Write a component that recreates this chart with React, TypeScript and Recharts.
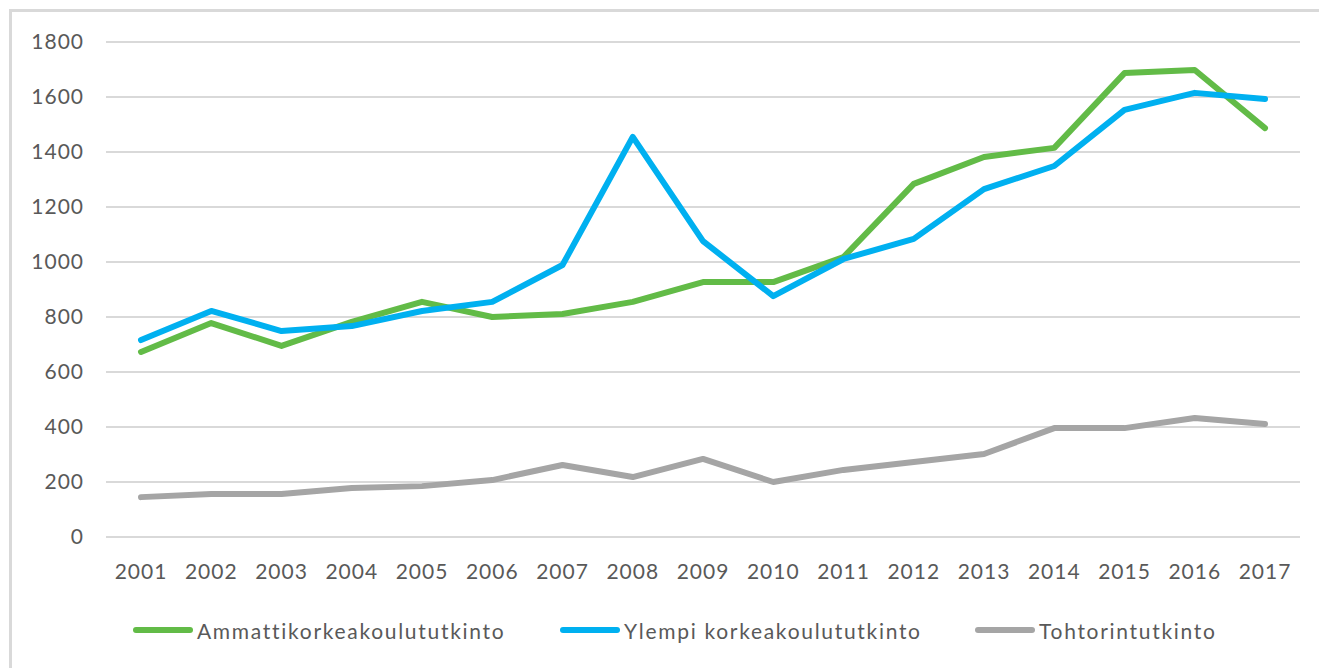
import { CartesianGrid, Line, LineChart, XAxis, YAxis } from "recharts";

const YEARS = ["2001", "2002", "2003", "2004", "2005", "2006", "2007", "2008", "2009", "2010", "2011", "2012", "2013", "2014", "2015", "2016", "2017"];
const AMK = [673, 778, 695, 782, 855, 800, 811, 855, 927, 927, 1018, 1284, 1382, 1415, 1687, 1698, 1487];
const YLEMPI = [716, 822, 749, 767, 822, 855, 989, 1455, 1076, 876, 1011, 1084, 1265, 1349, 1553, 1615, 1593];
const TOHTORI = [145, 156, 156, 178, 185, 207, 262, 218, 284, 200, 244, 273, 302, 396, 396, 433, 411];
const Y_TICKS = [0, 200, 400, 600, 800, 1000, 1200, 1400, 1600, 1800];

const SERIES = [
  { key: "amk", name: "Ammattikorkeakoulututkinto", color: "#62bb47" },
  { key: "ylempi", name: "Ylempi korkeakoulututkinto", color: "#00b0f0" },
  { key: "tohtori", name: "Tohtorintutkinto", color: "#a5a5a5" }
];

const data = YEARS.map((year, i) => ({
  year,
  amk: AMK[i],
  ylempi: YLEMPI[i],
  tohtori: TOHTORI[i]
}));

const FONT = "Lato, 'Open Sans', sans-serif";
const TEXT = "#595959";

// legend drawn as plain html so it doesn't shrink the plot area
function ChartLegend() {
  const lefts = [133, 560, 975];
  return (
    <div style={{ position: "absolute", left: 0, top: 610, width: 1319, height: 40 }}>
      {SERIES.map((s, i) => (
        <div key={s.key} style={{ position: "absolute", left: lefts[i], top: 0, display: "flex", alignItems: "center", height: 40 }}>
          <span style={{ width: 60, height: 6, borderRadius: 3, background: s.color, display: "inline-block" }} />
          <span style={{ marginLeft: 4, fontFamily: FONT, fontSize: 21, color: TEXT, letterSpacing: 1.7 }}>{s.name}</span>
        </div>
      ))}
    </div>
  );
}

export default function App() {
  const tickStyle = { fill: TEXT, fontSize: 21, fontFamily: FONT, letterSpacing: 1 };
  return (
    <div style={{ position: "fixed", left: 0, top: 0, width: 1319, height: 668, background: "#fff" }}>
      <div style={{ position: "absolute", left: 9, top: 9, right: 0, bottom: 0, borderLeft: "3px solid #d9d9d9", borderTop: "3px solid #d9d9d9" }} />
      <div style={{ position: "absolute", left: 0, top: 0 }}>
        <LineChart width={1319} height={668} data={data} margin={{ top: 42, right: 19, bottom: 101, left: 10 }}>
          <CartesianGrid vertical={false} stroke="#d9d9d9" strokeWidth={2} />
          <XAxis
            dataKey="year"
            height={30}
            axisLine={false}
            tickLine={false}
            tickSize={0}
            tickMargin={27}
            interval={0}
            padding={{ left: 35, right: 35 }}
            tick={tickStyle}
          />
          <YAxis
            domain={[0, 1800]}
            ticks={Y_TICKS}
            width={96}
            axisLine={false}
            tickLine={false}
            tickSize={0}
            tickMargin={22}
            tick={tickStyle}
          />
          {SERIES.map((s) => (
            <Line
              key={s.key}
              type="linear"
              dataKey={s.key}
              name={s.name}
              stroke={s.color}
              strokeWidth={6}
              strokeLinecap="round"
              strokeLinejoin="round"
              dot={false}
              activeDot={false}
              isAnimationActive={false}
            />
          ))}
        </LineChart>
      </div>
      <ChartLegend />
    </div>
  );
}
